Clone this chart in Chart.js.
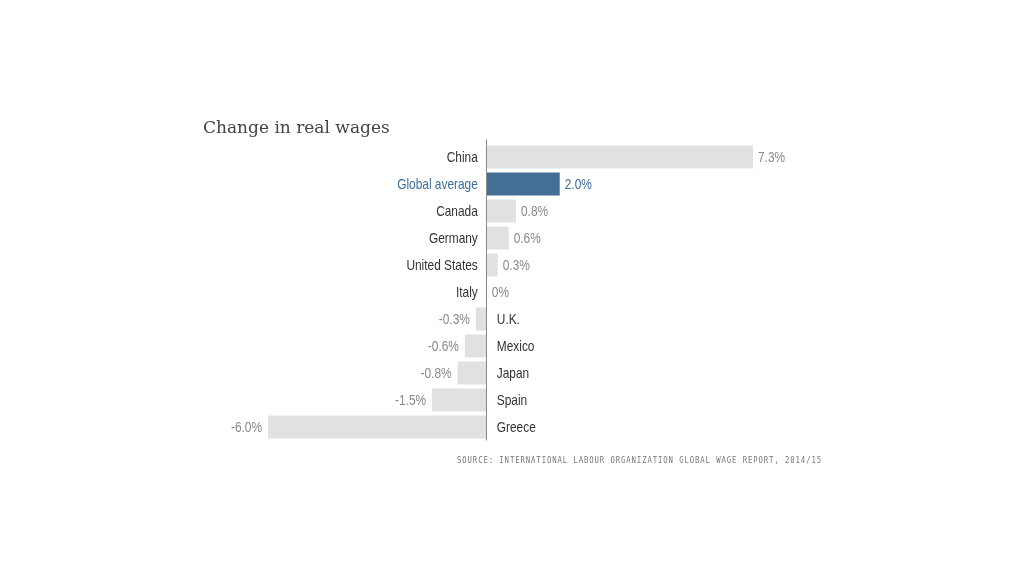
<!DOCTYPE html>
<html>
<head>
<meta charset="utf-8">
<script src="https://cdn.jsdelivr.net/npm/chart.js@4/dist/chart.umd.min.js"></script>
<style>
  body { margin: 0; background: #fff; }
</style>
</head>
<body>
<canvas id="chart" width="1024" height="576"></canvas>
<script>
// data
var countries = ["China", "Global average", "Canada", "Germany", "United States", "Italy",
                 "U.K.", "Mexico", "Japan", "Spain", "Greece"];
var wageChange = [7.3, 2.0, 0.8, 0.6, 0.3, 0, -0.3, -0.6, -0.8, -1.5, -6.0];
var highlight = "Global average";
var titleText = "Change in real wages";
var sourceText = "SOURCE: INTERNATIONAL LABOUR ORGANIZATION GLOBAL WAGE REPORT, 2014/15";

var grey = "#e1e1e1";
var blue = "#426f93";

var barColors = countries.map(function(c) { return c == highlight ? blue : grey; });

function fmt(v) {
    return v === 0 ? "0%" : v.toFixed(1) + "%";
}

// narrow-looking label: squeeze a normal sans horizontally
function narrowText(ctx, text, x, y, align) {
    ctx.save();
    ctx.translate(x, y);
    ctx.scale(0.82, 1);
    ctx.textAlign = align;
    ctx.fillText(text, 0, 0);
    ctx.restore();
}

// title, source, zero line and the name / value labels beside each bar
var labelPlugin = {
    id: "barLabels",
    afterDatasetsDraw: function(chart) {
        var ctx = chart.ctx;
        var xs = chart.scales.x;
        var area = chart.chartArea;
        var x0 = xs.getPixelForValue(0);

        ctx.save();
        ctx.fillStyle = "#444";
        ctx.font = "17px 'DejaVu Serif', serif";
        ctx.textAlign = "left";
        ctx.textBaseline = "alphabetic";
        ctx.fillText(titleText, 203, 133, 188);

        ctx.fillStyle = "#777";
        ctx.font = "8px 'DejaVu Sans Mono', monospace";
        ctx.letterSpacing = "1px";
        ctx.textAlign = "right";
        ctx.fillText(sourceText, 822, 463, 365);
        ctx.letterSpacing = "0px";

        ctx.strokeStyle = "#888";
        ctx.lineWidth = 1;
        ctx.beginPath();
        ctx.moveTo(Math.round(x0) - 0.5, area.top - 4);
        ctx.lineTo(Math.round(x0) - 0.5, area.bottom);
        ctx.stroke();

        ctx.font = "14.5px 'Liberation Sans', Arial, sans-serif";
        ctx.textBaseline = "middle";
        var meta = chart.getDatasetMeta(0);
        meta.data.forEach(function(bar, i) {
            var v = wageChange[i];
            var y = bar.y + 1;
            var xe = xs.getPixelForValue(v);
            var hi = countries[i] == highlight;
            var nameCol = hi ? "#3d6d96" : "#333";
            var valCol = hi ? "#3d6d96" : "#888";
            if (v >= 0) {
                ctx.fillStyle = nameCol;
                narrowText(ctx, countries[i], x0 - 9, y, "right");
                ctx.fillStyle = valCol;
                narrowText(ctx, fmt(v), xe + 5, y, "left");
            } else {
                ctx.fillStyle = nameCol;
                narrowText(ctx, countries[i], x0 + 10, y, "left");
                ctx.fillStyle = valCol;
                narrowText(ctx, fmt(v), xe - 6, y, "right");
            }
        });
        ctx.restore();
    }
};

var ctx = document.getElementById("chart").getContext("2d");
new Chart(ctx, {
    type: "bar",
    data: {
        labels: countries,
        datasets: [{
            data: wageChange,
            backgroundColor: barColors,
            borderWidth: 0,
            categoryPercentage: 1,
            barPercentage: 0.85
        }]
    },
    options: {
        indexAxis: "y",
        responsive: false,
        animation: false,
        layout: { padding: { left: 268, right: 271, top: 143.5, bottom: 135.5 } },
        scales: {
            x: { display: false, min: -6, max: 7.3 },
            y: { display: false }
        },
        plugins: {
            legend: { display: false },
            tooltip: { enabled: false }
        }
    },
    plugins: [labelPlugin]
});
</script>
</body>
</html>
